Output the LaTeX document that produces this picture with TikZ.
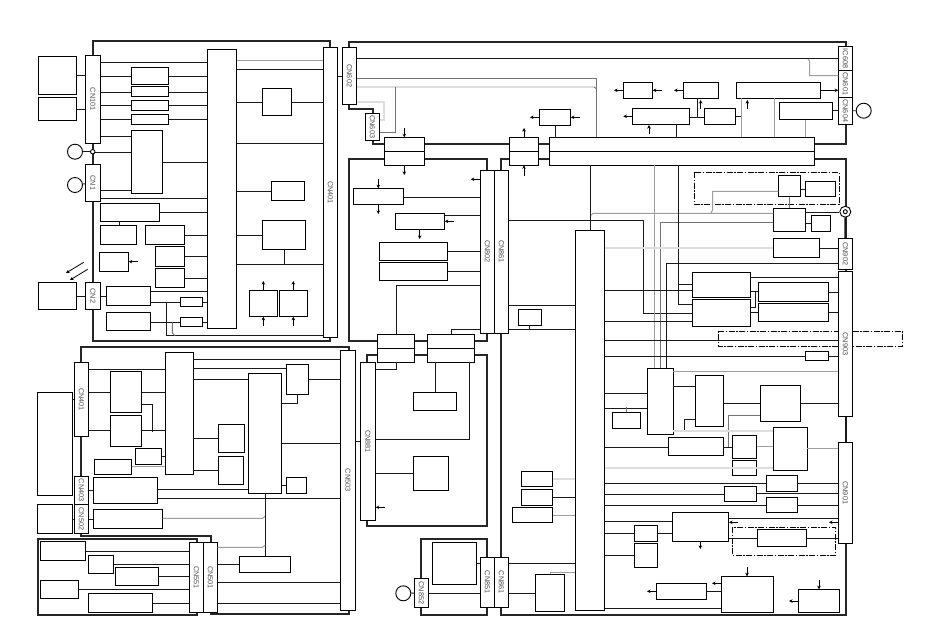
\documentclass[tikz,border=0pt]{standalone}
\usepackage{fontspec}
\setmainfont{Liberation Sans}
\usetikzlibrary{arrows.meta}
\tikzset{
  bx/.style={draw=black,fill=white,line width=1pt,inner sep=0pt,outer sep=0pt,anchor=north west},
  wire/.style={draw=black!90,line width=0.9pt},
  gwire/.style={draw=black!55,line width=0.9pt},
  lgwire/.style={draw=black!38,line width=1pt},
  vlg/.style={draw=black!13,line width=2pt},
  frame/.style={draw=black!85,line width=2pt},
  dd/.style={draw=black,line width=0.8pt,dash pattern=on 6pt off 1.5pt on 1.5pt off 1.5pt,fill=none},
  arr/.style={draw=black,line width=0.8pt,-{Stealth[length=3.6pt,width=3.6pt]}},
  lab/.style={font=\fontsize{7.3}{7.3}\selectfont,text=black!70,rotate=-90,inner sep=0pt},
  ring/.style={draw=black,fill=white,circle,inner sep=0pt,line width=0.9pt},
}
% box: name, x0, y0, x1, y1
\newcommand{\bxx}[5]{\pgfmathsetmacro{\bw}{#4-#2}\pgfmathsetmacro{\bh}{#5-#3}\node[bx,minimum width=\bw pt,minimum height=\bh pt] (#1) at (#2,#3) {};}
\newcommand{\cnx}[6]{\bxx{#1}{#2}{#3}{#4}{#5}\node[lab] (#1t) at (#1.center) {#6};}
% horizontal wire at y between right side of a and left side of b
\newcommand{\hw}[4][wire]{\draw[#1] (#3.east |- 0,#2) -- (#4.west |- 0,#2);}
\begin{document}
\begin{tikzpicture}[x=1pt,y=-1pt]
\useasboundingbox (0,0) rectangle (950,633);
\fill[white] (0,0) rectangle (950,633);
% ---- frames
\draw[frame] (92.7,41) rectangle (330,341);
\draw[frame] (80.7,346.7) -- (349,346.7) -- (349,614.3) -- (211,614.3) -- (211,536) -- (80.7,536) -- cycle;
\draw[frame] (38,539) rectangle (197.3,614.7);
\draw[frame] (349,41.7) -- (845.7,41.7) -- (845.7,144.3) -- (373.3,144.3) -- (373.3,109) -- (349,109) -- cycle;
\draw[frame] (349,159) rectangle (487.3,340.7);
\draw[frame] (367.3,355) rectangle (487.3,525.7);
\draw[frame] (501,159) rectangle (845.7,615);
\draw[frame] (421,539) rectangle (487.3,615);
% ---- boxes: upper left
\bxx{a1}{38.3}{56.7}{76.7}{94.3}
\bxx{a2}{38.3}{97.3}{76.7}{120.7}
\bxx{a3}{38.3}{282.3}{76.7}{309.7}
\cnx{cn101}{85.3}{55.3}{100.7}{143.3}{CN101}
\cnx{cna}{85.3}{164.3}{100.7}{201.3}{CN1}
\cnx{cnb}{85.3}{282.3}{100.7}{309.7}{CN2}
\bxx{l1}{131.3}{67.3}{168.7}{84.7}
\bxx{l2}{131.3}{86}{168.7}{96.7}
\bxx{l3}{131.3}{100.3}{168.7}{110.7}
\bxx{l4}{131.3}{114.3}{168.7}{124.7}
\bxx{l5}{131.3}{130.3}{162.7}{193.7}
\bxx{ic1}{207.3}{49}{236.7}{328.7}
\cnx{cn401}{323.3}{47.3}{337.7}{337.7}{CN401}
\bxx{r1}{262.3}{88.3}{291.7}{115.7}
\bxx{r2}{271.3}{181.3}{304.7}{200.7}
\bxx{r3}{262.3}{220.3}{305.7}{249.7}
\bxx{r4}{249.3}{290.3}{277.7}{316.7}
\bxx{r5}{279.3}{290.3}{307.7}{316.7}
\bxx{m1}{100.3}{203.3}{159.7}{221.7}
\bxx{m2}{100.3}{225.3}{136.7}{244.7}
\bxx{m3}{145.3}{225.3}{184.7}{244.7}
\bxx{m4}{155.3}{246.3}{184.7}{266.7}
\bxx{m5}{155.3}{268.3}{184.7}{287.7}
\bxx{m6}{99.3}{252.3}{128.7}{271.7}
\bxx{m7}{106.3}{286.3}{150.7}{305.7}
\bxx{m8}{106.3}{312.3}{150.7}{330.7}
\bxx{m9}{180.3}{297.3}{202.7}{306.7}
\bxx{m10}{180.3}{317.3}{202.7}{326.7}
\node[ring,minimum size=15pt] (c1) at (75,151.7) {};
\node[ring,minimum size=4.5pt] (c1b) at (92.7,151.7) {};
\node[ring,minimum size=15pt] (c2) at (75,185) {};
\draw[wire] (c1) -- (c1b);
\draw[wire] (c2) -- (cna);
% wires upper left
\hw{62.3}{cn101}{ic1}
\hw{76.3}{cn101}{l1}\hw{76.3}{l1}{ic1}
\hw{92.3}{cn101}{l2}\hw{92.3}{l2}{ic1}
\hw{105.3}{cn101}{l3}\hw{105.3}{l3}{ic1}
\hw{119.3}{cn101}{l4}\hw{119.3}{l4}{ic1}
\hw{136.3}{cn101}{l5}
\hw{152.3}{c1b}{l5}
\hw{162.3}{l5}{ic1}
\hw{190}{cna}{l5}
\hw{198.3}{cna}{ic1}
\hw{212.3}{m1}{ic1}
\hw{235.3}{m3}{ic1}
\hw{256.3}{m4}{ic1}
\hw{278.3}{m5}{ic1}
\hw{291}{m7}{ic1}
\hw{302.3}{m7}{m9}\hw{302.3}{m9}{ic1}
\hw{322.3}{m8}{m10}\hw{322.3}{m10}{ic1}
\hw[lgwire]{60.3}{ic1}{cn401}
\hw{69.3}{ic1}{cn401}
\hw{102.3}{ic1}{r1}\hw{102.3}{r1}{cn401}
\hw{143.3}{ic1}{cn401}
\hw{191.3}{ic1}{r2}
\hw{235.3}{ic1}{r3}
\hw{264.3}{ic1}{cn401}
\draw[wire] (r3.south -| 284.3,0) -- (284.3,264.3);
\hw{75.3}{a1}{cn101}
\hw{109.3}{a2}{cn101}
\hw{296.7}{a3}{cnb}
\hw{296.7}{cnb}{m7}
\draw[wire] (m1.south -| 119.3,0) -- (m2.north -| 119.3,0);
\draw[wire] (166.7,302.3) -- (166.7,335.7) -- (cn401.west |- 0,335.7);
\draw[gwire] (172.3,322.3) -- (172.3,333) -- (175,335.7);
\draw[arr] (138,261.7) -- (m6.east |- 0,261.7);
\foreach \xx/\n in {263.3/r4,293.3/r5}{
  \draw[arr] (\n.north -| \xx,0) -- (\xx,281);
  \draw[arr] (\xx,326) -- (\n.south -| \xx,0);
}
\draw[arr] (83.7,262.3) -- (66,273);
\draw[arr] (87.7,269.3) -- (70,280);
% ---- lower left
\bxx{b1}{37.3}{392.3}{72}{495.3}
\bxx{b2}{37.3}{504.3}{72}{533.7}
\cnx{cn4011}{74.3}{362.3}{88.7}{436.7}{CN401}
\cnx{cn403}{74.3}{476.3}{88.7}{504.3}{CN403}
\cnx{cn402}{74.3}{504.3}{88.7}{533.7}{CN502}
\bxx{d1}{110.3}{371.3}{141.7}{412.3}
\bxx{d2}{110.3}{415.3}{141.7}{446.7}
\bxx{d3}{135.3}{448.3}{161.7}{464.7}
\bxx{d4}{94.3}{459.3}{131.7}{474.7}
\bxx{d5}{93.3}{477.3}{157.7}{503.7}
\bxx{d6}{93.3}{509.3}{162.7}{528.7}
\bxx{ic2}{165.3}{352.3}{193}{474.7}
\bxx{d7}{218.3}{424.3}{244.7}{452.7}
\bxx{d8}{218.3}{456.3}{243.7}{484.7}
\bxx{ic3}{248.3}{373.3}{281.7}{493.7}
\bxx{d9}{286.3}{364.3}{308.7}{394.7}
\bxx{d10}{286.3}{477.3}{306.7}{493.7}
\cnx{cn503}{340.3}{350.3}{355.7}{610.3}{CN503}
\cnx{cn551}{189.3}{542.3}{203.3}{612.7}{CN551}
\cnx{cn501}{203.3}{542.3}{217.7}{612.7}{CN501}
\bxx{d11}{239.3}{556.3}{290.7}{572.7}
\bxx{e1}{40.3}{541.3}{85.7}{560.7}
\bxx{e2}{88.3}{555.3}{113.7}{573.7}
\bxx{e3}{115.3}{567.3}{158.7}{585.7}
\bxx{e4}{40.3}{580.3}{78.7}{598.7}
\bxx{e5}{88.3}{593.3}{152.7}{612.7}
\hw{399.3}{b1}{cn4011}
\hw{519.3}{b2}{cn402}
\hw{369.3}{cn4011}{ic2}
\hw{392.3}{cn4011}{d1}\hw{392.3}{d1}{ic2}
\hw{430}{cn4011}{d2}\hw{430}{d2}{ic2}
\draw[wire] (d1.east |- 0,404.3) -- (152.7,404.3) -- (152.7,431.7);
\hw{456.3}{d3}{ic2}
\hw[lgwire]{466.7}{d4}{ic2}
\hw{359.3}{ic2}{cn503}
\hw{368.7}{ic2}{d9}
\hw{379.3}{ic2}{ic3}
\hw{379.3}{d9}{cn503}
\hw{438.3}{ic2}{d7}
\hw{470.3}{ic2}{d8}
\draw[wire] (297.3,394.7) -- (297.3,403.3) -- (ic3.east |- 0,403.3);
\hw{443.3}{ic3}{cn503}
\hw{485.7}{ic3}{d10}
\hw{489.3}{d5}{ic3}
\hw{498.3}{d5}{cn503}
\hw{490.7}{cn403}{d5}
\hw{519}{cn402}{d6}
\draw[lgwire] (d6.east |- 0,518.3) -- (262.5,518.3) -- (265.3,516);
\draw[wire] (ic3.south -| 265.3,0) -- (d11.north -| 265.3,0);
\draw[lgwire] (cn501.east |- 0,547.3) -- (262.5,547.3) -- (265.3,545);
\hw{564.3}{cn501}{d11}
\hw{582.3}{cn501}{cn503}
\hw{603.3}{cn501}{cn503}
\hw{551}{e1}{cn551}
\hw{564.3}{e2}{cn551}
\hw{576}{e3}{cn551}
\hw{589.3}{e4}{cn551}
\hw{603.3}{e5}{cn551}
% ---- upper middle/right
\cnx{cn602}{342.3}{47.3}{356.7}{104.3}{CN602}
\cnx{cn603}{365.3}{113.3}{379.7}{140.3}{CN603}
\draw[wire] (cn401.east |- 0,76.3) -- (cn602.west |- 0,76.3);
\bxx{t1}{384.3}{137.3}{424.7}{151.3}
\bxx{t2}{384.3}{151.3}{424.7}{165.3}
\bxx{t3}{509.3}{137.3}{538.7}{151.3}
\bxx{t4}{509.3}{151.3}{538.7}{165.3}
\bxx{t5}{549.3}{137.3}{814.3}{151.3}
\bxx{t6}{549.3}{151.3}{814.3}{165.3}
\bxx{u1}{539.3}{109.3}{570.7}{125.7}
\bxx{u2}{623.3}{82.3}{652.7}{98.3}
\bxx{u3}{683.3}{82.3}{718.7}{98.3}
\bxx{u4}{736.7}{82.3}{820.7}{98.3}
\bxx{u5}{632.3}{108.3}{689.7}{124.3}
\bxx{u6}{704.3}{108.3}{735.7}{124.3}
\bxx{u7}{779.3}{102.3}{832.7}{119.7}
\cnx{ic608}{838.3}{46.7}{852.7}{70.3}{IC608}
\cnx{cn601}{838.3}{70.3}{852.7}{97.3}{CN601}
\cnx{cn604}{838.3}{97.3}{852.7}{124.3}{CN604}
\node[ring,minimum size=15pt] (c3) at (863.7,110.7) {};
\draw[wire] (cn604) -- (c3);
\draw[wire] (cn602.east |- 0,58.3) -- (ic608.west |- 0,58.3);
\draw[gwire] (cn602.east |- 0,78.3) -- (596.7,78.3) -- (t5.north -| 596.7,0);
\draw[vlg] (cn602.east |- 0,87) -- (594,87);
\draw[gwire] (594,87) -- (596.7,89);
\draw[gwire] (395.3,87) -- (395.3,132.3) -- (cn603.east |- 0,132.3);
\draw[vlg] (cn602.east |- 0,101.7) -- (384.3,101.7) -- (384.3,120.3) -- (cn603.east |- 0,120.3);
\draw[arr] (404.3,127.7) -- (t1.north -| 404.3,0);
\draw[arr] (t2.south -| 404.3,0) -- (404.3,175);
\draw[arr] (t3.north -| 524,0) -- (524,128);
\draw[arr] (524,176) -- (t4.south -| 524,0);
\draw[arr] (u1.west |- 0,117.3) -- (530,117.3);
\draw[arr] (580,117.3) -- (u1.east |- 0,117.3);
\draw[wire] (u1.south -| 555.3,0) -- (t5.north -| 555.3,0);
\draw[arr] (u2.west |- 0,90.3) -- (614,90.3);
\draw[arr] (662.3,90.3) -- (u2.east |- 0,90.3);
\draw[arr] (u3.west |- 0,90.3) -- (674,90.3);
\draw[arr] (u4.east |- 0,90.3) -- (cn601.west |- 0,90.3);
\draw[arr] (747.3,109) -- (747.3,100);
\draw[arr] (u5.west |- 0,116.3) -- (623.3,116.3);
\draw[arr] (649,134.3) -- (649,125);
\draw[wire] (u5.south -| 676.3,0) -- (t5.north -| 676.3,0);
\draw[wire] (u5.east |- 0,117.3) -- (u6.west |- 0,117.3);
\draw[wire] (697.3,117.3) -- (u3.south -| 697.3,0);
\draw[arr] (700.7,109) -- (700.7,100);
\draw[wire] (u6.east |- 0,116.7) -- (741.7,116.7);
\draw[lgwire] (u4.south -| 741.7,0) -- (t5.north -| 741.7,0);
\draw[lgwire] (u4.south -| 774.3,0) -- (t5.north -| 774.3,0);
\draw[lgwire] (u7.south -| 805.7,0) -- (t5.north -| 805.7,0);
\hw{110.7}{u7}{cn604}
\draw[lgwire] (cn601.west |- 0,75.7) -- (809.7,75.7) -- (809.7,61) -- (808,59);
% ---- dashed group
\draw[dd] (694.3,172.3) rectangle (839,204.3);
\bxx{v1}{778.3}{175.3}{800.7}{196.7}
\bxx{v2}{805.3}{181.3}{835.7}{196.7}
\hw{189.3}{v1}{v2}
\bxx{v3}{773.3}{208.3}{805.7}{231.7}
\bxx{v4}{811.3}{215.3}{830.7}{231.7}
\hw{223.3}{v3}{v4}
\bxx{v5}{773.3}{238.3}{819.7}{257.7}
\draw[gwire] (v1.south -| 789.3,0) -- (v3.north -| 789.3,0);
\node[ring,minimum size=11pt] (c4) at (845.3,211.7) {};
\node[ring,minimum size=4pt] (c4b) at (845.3,211.7) {};
\hw{212.3}{v3}{c4}
\draw[lgwire] (v1.west |- 0,191.3) -- (712.7,191.3) -- (712.7,210) -- (710.7,213.3);
\draw[lgwire] (590.7,215.5) -- (593,213.3) -- (v3.west |- 0,213.3);
\cnx{cn902}{838.3}{238.3}{852.7}{269.3}{CN902}
\cnx{cn903}{838.3}{271}{852.7}{416.7}{CN903}
\cnx{cn901}{838.3}{442.3}{852.7}{543.3}{CN901}
\draw[line width=2pt,draw=black!90] (c4) -- (cn902);
\draw[line width=2pt,draw=black!90] (cn903) -- (cn901);
\hw{248.3}{v5}{cn902}
% ---- centre
\cnx{cn802}{480.3}{170}{494.3}{333.3}{CN802}
\cnx{cn861}{494.3}{170}{508.7}{333.3}{CN861}
\bxx{f1}{353.3}{188.3}{403.7}{204.3}
\bxx{f2}{395.3}{213.3}{444.7}{229.7}
\bxx{f3}{379.3}{242.3}{447.7}{260.7}
\bxx{f4}{379.3}{262.3}{447.7}{280.7}
\bxx{g1}{377.3}{334.3}{414.7}{348.3}
\bxx{g2}{377.3}{348.3}{414.7}{362.3}
\bxx{g3}{427.3}{334.3}{474.7}{348.3}
\bxx{g4}{427.3}{348.3}{474.7}{362.3}
\bxx{ic4}{575.3}{230.3}{604.7}{610.7}
\bxx{g5}{518.3}{309.3}{541.7}{325.7}
\hw{197.7}{f1}{cn802}
\hw{215.3}{f2}{cn802}
\hw{251.3}{f3}{cn802}
\hw{271.3}{f4}{cn802}
\draw[arr] (378.3,179) -- (f1.north -| 378.3,0);
\draw[arr] (f1.south -| 378.3,0) -- (378.3,214);
\draw[arr] (454,221.3) -- (f2.east |- 0,221.3);
\draw[arr] (f2.south -| 419.7,0) -- (419.7,239);
\draw[arr] (cn802.west |- 0,179.3) -- (470.7,179.3);
\draw[wire] (g1.north -| 396.3,0) -- (396.3,285.3) -- (cn802.west |- 0,285.3);
\draw[wire] (g3.north -| 451.5,0) -- (451.5,329.3) -- (cn802.west |- 0,329.3);
\hw{305.3}{cn861}{ic4}
\hw{329.3}{cn861}{ic4}
\draw[wire] (g5.south -| 529.7,0) -- (529.7,329.3);
\draw[wire] (t6.south -| 590.7,0) -- (ic4.north -| 590.7,0);
% ---- CN881 area
\cnx{cn881}{360.3}{362.3}{375.7}{520.7}{CN881}
\bxx{h1}{413.3}{392.3}{456.7}{410.7}
\bxx{h2}{413.3}{456.3}{448.7}{490.7}
\draw[wire] (cn881.east |- 0,369.3) -- (396.7,369.3) -- (g2.south -| 396.7,0);
\draw[wire] (g4.south -| 435.3,0) -- (h1.north -| 435.3,0);
\draw[wire] (g4.south -| 469.3,0) -- (469.3,439.3) -- (cn881.east |- 0,439.3);
\hw{473.3}{cn881}{h2}
\draw[arr] (385,507.3) -- (cn881.east |- 0,507.3);
\draw[wire] (cn503.east |- 0,441) -- (cn881.west |- 0,441);
% ---- CN851 area
\cnx{cn951}{480.3}{557.3}{494.3}{607.3}{CN851}
\cnx{cn961}{494.3}{557.3}{508.7}{607.3}{CN861}
\cnx{cn852}{414.3}{578.3}{428.7}{607.7}{CN852}
\bxx{k1}{432.3}{542.3}{476.7}{584.7}
\node[ring,minimum size=15pt] (c5) at (403.3,593.3) {};
\draw[wire] (c5) -- (cn852);
\hw{593.3}{cn852}{cn951}
\hw{563.3}{k1}{cn951}
\bxx{k2}{535.3}{574.3}{564.7}{611.7}
\bxx{k3}{521.3}{471.3}{552.7}{486.7}
\bxx{k4}{521.3}{489.3}{552.7}{505.7}
\bxx{k5}{512.3}{507.3}{552.7}{522.7}
\hw{563.3}{cn961}{ic4}
\hw{593.3}{cn961}{k2}
\draw[lgwire] (k2.north -| 550.3,0) -- (550.3,572.3) -- (ic4.west |- 0,572.3);
\hw[vlg]{479}{k3}{ic4}
\hw{497.3}{k4}{ic4}
\hw[lgwire]{515}{k5}{ic4}
% ---- right region
\bxx{n1}{692.3}{272.3}{750.7}{297.3}
\bxx{n2}{692.3}{299.3}{750.7}{326.3}
\bxx{n3}{758.3}{282.3}{828.7}{301.7}
\bxx{n4}{758.3}{303.3}{828.7}{321.7}
\bxx{n5}{805.3}{351.3}{828.7}{360.7}
\bxx{p1}{647.3}{368.3}{673.3}{434.3}
\bxx{p2}{695.3}{375.3}{723.3}{426.3}
\bxx{p3}{760.3}{385.3}{800.7}{421.3}
\bxx{p4}{612.3}{412.3}{640.7}{428.7}
\bxx{p5}{668.3}{437.3}{723.3}{455.7}
\bxx{p6}{732.3}{435.3}{756.7}{458.7}
\bxx{p7}{732.3}{460.3}{756.7}{475.7}
\bxx{p8}{773.3}{427.3}{807.3}{470.3}
\bxx{p9}{766.3}{475.3}{797.3}{491.3}
\bxx{p10}{724.3}{486.3}{756.7}{501.7}
\bxx{p11}{766.3}{497.3}{797.3}{512.7}
\bxx{p12}{672.3}{512.3}{728.7}{541.7}
\bxx{p13}{634.3}{525.3}{657.7}{541.7}
\bxx{p14}{634.3}{543.3}{657.7}{567.7}
\draw[dd] (732.3,527.3) rectangle (835.7,555.3);
\bxx{p15}{757.3}{529.3}{806.7}{546.7}
\bxx{p16}{721.3}{576.3}{773.7}{612.7}
\bxx{p17}{656.3}{583.3}{706.7}{599.7}
\bxx{p18}{798.3}{589.3}{839.7}{612.7}
% wires right region
\draw[wire] (cn861.east |- 0,220.3) -- (643.3,220.3) -- (643.3,313.3) -- (n2.west |- 0,313.3);
\draw[lgwire] (t6.south -| 654.3,0) -- (p1.north -| 654.3,0);
\draw[gwire] (v3.west |- 0,222.3) -- (660.3,222.3) -- (p1.north -| 660.3,0);
\draw[wire] (cn902.west |- 0,263.3) -- (666,263.3) -- (p1.north -| 666,0);
\draw[wire] (t6.south -| 678.3,0) -- (678.3,304.3) -- (n2.west |- 0,304.3);
\draw[wire] (678.3,284) -- (n1.west |- 0,284);
\hw{290.5}{ic4}{n1}
\hw{321.3}{ic4}{n2}
\hw[vlg]{247.7}{ic4}{v5}
\hw{277.7}{n1}{cn903}
\hw{292.3}{n3}{cn903}
\hw{312.3}{n4}{cn903}
\hw{291}{n1}{n3}
\draw[wire] (755,291) -- (755,307.3) -- (n2.east |- 0,307.3);
\hw{312.3}{n2}{n4}
\hw{340.3}{ic4}{cn903}
\hw{356.3}{ic4}{n5}\hw{356.3}{n5}{cn903}
\hw[lgwire]{371.8}{p1}{cn903}
\hw{393.3}{ic4}{p1}
\hw{408.3}{ic4}{p1}
\draw[gwire] (626,407) -- (p4.north -| 626,0);
\hw{386.3}{p1}{p2}
\hw{403.3}{p2}{p3}
\hw{403.3}{p3}{cn903}
\draw[gwire] (p3.west |- 0,415.3) -- (728.3,415.3) -- (728.3,446.7);
\draw[wire] (p2.west |- 0,419.3) -- (684.3,419.3) -- (684.3,431.7);
\hw[vlg]{431}{p1}{p8}
\hw{447.3}{ic4}{p5}
\hw{447.3}{p5}{p6}
\hw[lgwire]{446.3}{p6}{p8}
\hw[lgwire]{448.7}{p8}{cn901}
\hw[vlg]{468}{ic4}{p8}
\hw{483.3}{ic4}{p9}\hw{483.3}{p9}{cn901}
\hw{494.3}{ic4}{p10}
\hw{493.3}{p10}{cn901}
\hw{505.3}{ic4}{p11}\hw{505.3}{p11}{cn901}
\hw{521.3}{ic4}{p12}
\hw{518.3}{p12}{cn901}
\hw{533.3}{ic4}{p13}\hw{533.3}{p13}{p12}
\hw{555.3}{ic4}{p14}
\hw{538.3}{p12}{p15}\hw{538.3}{p15}{cn901}
\hw{608.3}{ic4}{p16}
\draw[wire] (p16.west |- 0,591.3) -- (p17.east |- 0,591.3);
\draw[arr] (738.3,522.3) -- (729,522.3);
\draw[arr] (838,522.3) -- (829,522.3);
\draw[arr] (p12.south -| 700.3,0) -- (700.3,549);
\draw[arr] (747,567.3) -- (p16.north -| 747,0);
\draw[arr] (p16.west |- 0,583.3) -- (712,583.3);
\draw[arr] (p17.west |- 0,591.3) -- (647,591.3);
\draw[arr] (p18.west |- 0,601) -- (789,601);
\draw[arr] (819,580) -- (p18.north -| 819,0);
% dashed group through CN903
\draw[dd] (718.3,331.3) -- (838.3,331.3) (852.7,331.3) -- (902.3,331.3) -- (902.3,346.3) -- (852.7,346.3) (838.3,346.3) -- (718.3,346.3) -- (718.3,331.3);
\end{tikzpicture}
\end{document}
